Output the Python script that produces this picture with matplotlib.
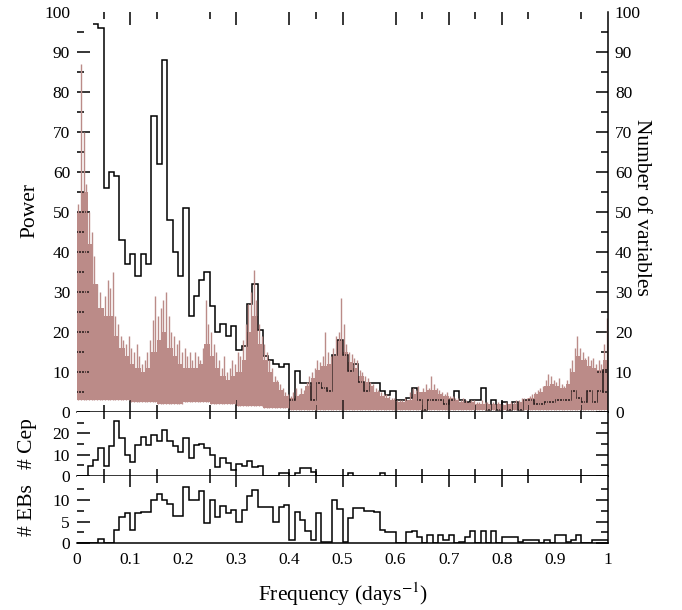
import numpy as np
import matplotlib

matplotlib.use("Agg")
import matplotlib.pyplot as plt  # noqa: E402
from matplotlib.ticker import FixedLocator  # noqa: E402

plt.rcParams["font.family"] = ["Liberation Serif", "DejaVu Serif"]
plt.rcParams["mathtext.fontset"] = "stix"

PINK = "#bb8b88"

# power spectrum, spike tops in 0.005 wide steps (0 -> 1)
power_top = [
    52, 87, 70, 57, 50, 45, 39, 32, 30, 26,
    29, 33, 31, 35, 24, 22, 19, 18, 17, 19,
    16, 15, 17, 14, 12, 13, 15, 18, 23, 29,
    24, 26, 28, 30, 24, 20, 19, 17, 18, 15,
    16, 14, 15, 13, 15, 14, 13, 16, 28, 22,
    20, 17, 15, 13, 11, 14, 10, 11, 13, 12,
    15, 14, 18, 22, 27, 30, 35.5, 28, 22, 19,
    17, 15, 13, 11, 9, 8, 7, 6, 5, 4.5,
    4, 5, 6, 4.5, 6, 5.5, 7.5, 9, 10, 11,
    13, 12.5, 14, 20, 15, 14, 16, 19, 20, 28.5,
    22, 17, 15, 14.5, 13.5, 13, 10.5, 10, 9, 8.5,
    7.5, 7, 6, 5.5, 5, 4.5, 4.5, 4, 3.5, 3.5,
    3, 3, 3, 3.5, 3, 5, 6, 5.5, 6.5, 5,
    6, 7, 6, 9, 7, 6, 5.5, 5, 4.5, 5,
    4, 4, 3.5, 3.5, 3, 3.5, 3, 2.5, 3, 3,
    2.5, 2.5, 3, 2.5, 2.5, 2, 2.5, 2, 2.5, 2,
    2, 2.5, 2, 2.5, 2.5, 3, 3, 3.5, 3.5, 3.5,
    4, 4.5, 5, 5.5, 6, 6.5, 8, 9.5, 9, 8,
    7.5, 8.5, 7, 6.5, 8, 11, 13, 16, 19, 16,
    15, 13.5, 14, 13, 13.5, 12, 13, 12, 17, 23.5,
]
# solid body of the spectrum, 0.01 wide steps
power_body = [
    50, 55, 42, 32, 26, 24, 24, 19, 16, 14,
    12, 11, 10, 11, 15, 18, 20, 16, 14, 12,
    11, 11, 11, 12, 17, 14, 11, 9, 8, 9,
    10, 13, 20, 24, 17, 13, 10, 7.5, 5.5, 4,
    3.5, 4, 4.5, 6.5, 8.5, 10.5, 11.5, 12, 14, 18,
    15, 12.5, 11, 9, 7.5, 6.5, 5, 4, 3.5, 3,
    2.5, 2.5, 3, 4.5, 5, 5, 5.5, 5.5, 4.5, 4,
    3.5, 3, 2.5, 2.5, 2.5, 2, 2, 2, 2, 2,
    1.8, 2, 2, 2.5, 3, 3.5, 4.5, 5, 6.5, 7,
    6.5, 6, 7, 10, 14, 13, 11.5, 11, 10.5, 13,
]
# lower edge of the pink band, 0.05 wide steps
power_floor = [3, 3, 2.5, 2, 2.5, 2, 1.5, 1, 0.5, 0.5,
               0.5, 0.5, 0.5, 0.5, 0.5, 0.5, 0.5, 0.5, 0.5, 0.5]

nan = np.nan
# number of variables per 0.01 frequency bin
n_var = [
    nan, nan, nan, 97, 96, 56, 60, 59, 43, 37,
    39.5, 34, 39.5, 37, 74, 62, 88, 48, 40, 34,
    51, 24, 29, 33, 35, 26.5, 20, 22, 19, 21.5,
    15.5, 16.5, 27, 32, 20.5, 14, 13, 12, 11.3, 12,
    3, 10.3, 7.3, 7.3, 3, 7.3, 6, 5.3, 14.3, 18,
    14.3, 10.3, 12, 7.5, 5.3, 7.3, 7.3, 5.2, 4.2, 5.3,
    3, 3, 3.5, 6, 3, 0.5, 3, 3, 3, 2,
    3, 5.3, 3, 2.5, 3, 3, 6, 0.5, 3, 0.5,
    2.5, 0.5, 2.5, 0.5, 3, 3, 2, 2, 2.5, 2.5,
    3, 3, 3, 5.3, 3.5, 2.5, 5.3, 2.5, 5.3, 10.5,
]
n_cep = [
    0, 0, 4.5, 7.5, 13, 4.5, 14, 26, 17.7, 10,
    6.7, 14.6, 18.2, 14.6, 19.2, 16.5, 21.5, 16.5, 14.2, 11.1,
    18, 8.6, 14.6, 15, 13, 9.9, 4.4, 8.6, 6, 2.8,
    5.6, 4.7, 6.9, 4.4, 4.7, 0, 0, 0, 1.6, 1.6,
    0, 1.3, 3.9, 3.9, 2, 0, 0, 0, 0, 0,
    0, 1.3, 0, 0, 0, 0, 0, 1.3, 0, 0,
    0, 0, 0, 0, 0, 0, 0, 0, 0, 0,
    0, 0, 0, 0, 0, 0, 0, 0, 0, 0,
    0, 0, 0, 0, 0, 0, 0, 0, 0, 0,
    0, 0, 0, 0, 0, 0, 0, 0, 0, 0,
]
n_eb = [
    0, 0, 0, 0, 1, 0, 0, 3, 6.1, 6.9,
    3.1, 6.9, 7.2, 7.2, 10, 11.3, 10, 9, 6.3, 6.3,
    12.9, 10, 10, 12, 4.6, 10, 6.1, 8.5, 7, 7.7,
    5, 7.7, 10.8, 12.2, 8.4, 8.4, 8.4, 5, 8.4, 8.8,
    0.8, 7.2, 5.4, 2.8, 0.8, 6.9, 0.4, 0.4, 10, 8,
    0.4, 5.8, 8.1, 8.1, 7.5, 7.5, 7.3, 3.1, 2.5, 2.5,
    0, 0, 2.5, 2.8, 1.5, 0, 1.9, 0, 1.9, 0.8,
    1.9, 0, 0.4, 1.5, 2.8, 0, 2.8, 0, 2.8, 0,
    1.5, 1.5, 1.5, 0.4, 0.8, 0.8, 0.8, 0, 0.8, 0,
    1.9, 1.9, 0.4, 0.8, 1.9, 0, 0, 0.8, 0.8, 0.8,
]

x_major = [0.1, 0.3, 0.4, 0.5, 0.6, 0.7, 0.8]
x_minor = [0.05, 0.15, 0.25, 0.45, 0.65, 0.75, 0.85, 0.95]
x_label_pos = [0, 0.1, 0.2, 0.3, 0.4, 0.5, 0.6, 0.7, 0.8, 0.9, 1.0]
x_labels = ["0", "0.1", "0.2", "0.3", "0.4", "0.5", "0.6", "0.7", "0.8", "0.9", "1"]

LW = 1.1
TICK_FS = 12.5
LABEL_FS = 15.5


def _style(ax, ymax, ymajor, yminor, x_major_len, top=True, bottom=True):
    ax.set_xlim(0, 1)
    ax.set_ylim(0, ymax)
    for side in ("left", "top"):
        ax.spines[side].set_visible(False)
    for side in ("right", "bottom"):
        ax.spines[side].set_linewidth(LW)
    ax.xaxis.set_major_locator(FixedLocator(x_major))
    ax.xaxis.set_minor_locator(FixedLocator(x_minor))
    ax.yaxis.set_major_locator(FixedLocator(ymajor))
    ax.yaxis.set_minor_locator(FixedLocator(yminor))
    ax.tick_params(axis="x", which="both", direction="in", top=top, bottom=bottom,
                   labelbottom=False, width=LW)
    ax.tick_params(axis="x", which="major", length=x_major_len)
    ax.tick_params(axis="x", which="minor", length=4.7)
    ax.tick_params(axis="y", which="both", direction="in", left=True, right=True,
                   width=LW, labelsize=TICK_FS, pad=5)
    ax.tick_params(axis="y", which="major", length=9)
    ax.tick_params(axis="y", which="minor", length=4.7)


fig = plt.figure(figsize=(6.82, 6.10), dpi=100)
left, width = 77 / 682, 531 / 682
ax_p = fig.add_axes([left, 1 - 411.7 / 610, width, 399.7 / 610])
ax_c = fig.add_axes([left, 1 - 476 / 610, width, 64.3 / 610])
ax_e = fig.add_axes([left, 1 - 543.3 / 610, width, 67.3 / 610])

edges_p = np.linspace(0, 1, len(power_top) + 1)
centers_p = 0.5 * (edges_p[:-1] + edges_p[1:])
edges = np.linspace(0, 1, len(n_var) + 1)
floor_b = np.repeat(power_floor, len(power_body) // len(power_floor))
floor_t = np.repeat(power_floor, len(power_top) // len(power_floor))

# main panel: power spectrum (solid body + hairline spikes) + number of variables
ax_p.stairs(power_body, edges, baseline=floor_b, fill=True, color=PINK, lw=0)
ax_p.vlines(centers_p, floor_t, power_top, color=PINK, lw=1.0)
ax_p.stairs(n_var, edges, baseline=None, color="black", lw=LW)
_style(ax_p, 100, list(range(0, 101, 10)), list(range(5, 100, 10)), 9)
ax_p.tick_params(axis="y", labelleft=True, labelright=True)
top_tick = ax_p.yaxis.get_major_ticks()[-1]
top_tick.tick1line.set_visible(False)
top_tick.tick2line.set_visible(False)

# middle panel: cepheids
ax_c.stairs(n_cep, edges, baseline=None, color="black", lw=LW)
_style(ax_c, 30.2, [0, 10, 20], [5, 15, 25], 4.7)
ax_c.tick_params(axis="y", labelleft=True, labelright=False)

# bottom panel: eclipsing binaries
ax_e.stairs(n_eb, edges, baseline=None, color="black", lw=LW)
_style(ax_e, 15.5, [0, 5, 10], [2.5, 7.5, 12.5], 8, top=True, bottom=False)
ax_e.tick_params(axis="y", labelleft=True, labelright=False)
sec = ax_e.secondary_xaxis("bottom")
sec.set_xticks(x_label_pos, x_labels)
sec.tick_params(length=0, labelsize=TICK_FS, pad=6)
sec.spines["bottom"].set_visible(False)

fig.text(0.044, 0.655, "Power", rotation=90, ha="center", va="center", fontsize=LABEL_FS)
fig.text(0.94, 0.66, "Number of variables", rotation=270, ha="center", va="center",
         fontsize=LABEL_FS)
fig.text(0.040, 1 - 444 / 610, "# Cep", rotation=90, ha="center", va="center",
         fontsize=LABEL_FS)
fig.text(0.040, 1 - 510 / 610, "# EBs", rotation=90, ha="center", va="center",
         fontsize=LABEL_FS)
fig.text(343 / 682, 1 - 594 / 610, r"Frequency (days$^{-1}$)", ha="center", va="center",
         fontsize=LABEL_FS)

fig.savefig("out.png", dpi=100)
